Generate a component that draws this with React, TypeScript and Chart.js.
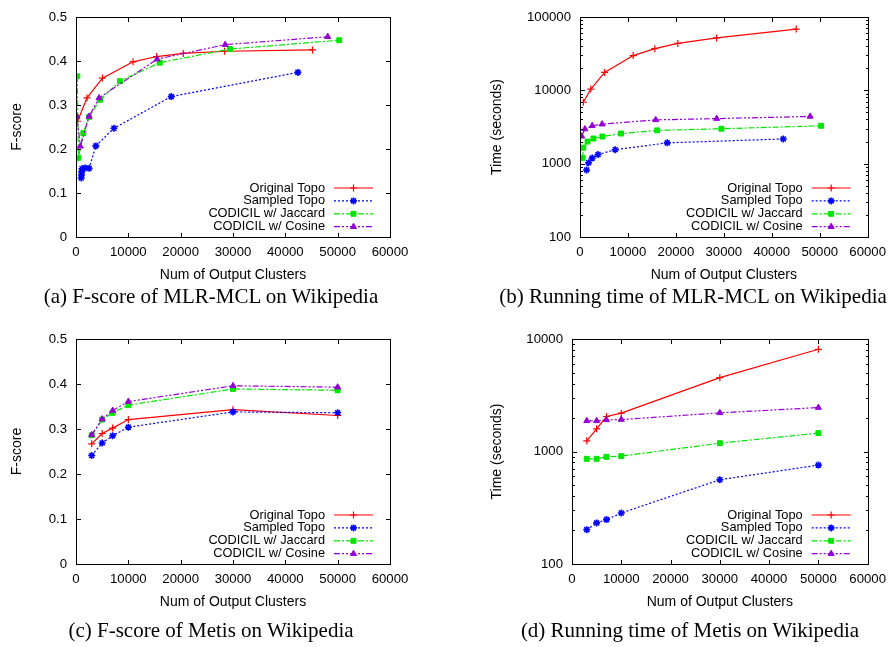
import React, { useEffect, useRef } from 'react';
import { Chart, registerables } from 'chart.js';
import { drawPoint } from 'chart.js/helpers';

Chart.register(...registerables);

type Pt = [number, number];

// ---------- labels ----------
const seriesNames = ['Original Topo', 'Sampled Topo', 'CODICIL w/ Jaccard', 'CODICIL w/ Cosine'];
const xTitle = 'Num of Output Clusters';
const fTitle = 'F-score';
const tTitle = 'Time (seconds)';
const captions = [
  '(a) F-score of MLR-MCL on Wikipedia',
  '(b) Running time of MLR-MCL on Wikipedia',
  '(c) F-score of Metis on Wikipedia',
  '(d) Running time of Metis on Wikipedia',
];

// ---------- tick values ----------
const clusterTicks = [0, 10000, 20000, 30000, 40000, 50000, 60000];
const fscoreTicks = [0, 0.1, 0.2, 0.3, 0.4, 0.5];
const timeTicksMlr = [100, 1000, 10000, 100000];
const timeTicksMetis = [100, 1000, 10000];

// ---------- (a) F-score of MLR-MCL ----------
const aOriginal: Pt[] = [[300, 0.263], [2100, 0.316], [5050, 0.361], [10900, 0.398], [15400, 0.41], [20500, 0.417], [28400, 0.422], [45200, 0.425]];
const aSampled: Pt[] = [[1000, 0.134], [1050, 0.141], [1100, 0.148], [1150, 0.155], [1700, 0.157], [2500, 0.156], [3800, 0.207], [7250, 0.247], [18200, 0.319], [42400, 0.374]];
const aJaccard: Pt[] = [[250, 0.365], [450, 0.18], [1400, 0.236], [2500, 0.273], [4600, 0.312], [8400, 0.354], [16000, 0.396], [29400, 0.427], [50300, 0.447]];
const aCosine: Pt[] = [[190, 0.274], [820, 0.206], [2500, 0.274], [4400, 0.316], [15500, 0.404], [28500, 0.437], [48100, 0.455]];

// ---------- (b) Running time of MLR-MCL ----------
const bOriginal: Pt[] = [[690, 6870], [2260, 10400], [5140, 17500], [11100, 29700], [15600, 36900], [20400, 43500], [28500, 51800], [45100, 68200]];
const bSampled: Pt[] = [[1370, 820], [1780, 1030], [2540, 1190], [3770, 1330], [7340, 1550], [18200, 1920], [42400, 2170]];
const bJaccard: Pt[] = [[550, 1200], [690, 1650], [1580, 2000], [2810, 2200], [4660, 2340], [8570, 2570], [16100, 2840], [29500, 2990], [50300, 3280]];
const bCosine: Pt[] = [[340, 2360], [1030, 2960], [2540, 3280], [4600, 3450], [15800, 3950], [28500, 4110], [48000, 4400]];

// ---------- (c)/(d) Metis ----------
const metisClusters = [3000, 5000, 7000, 10000, 30000, 50000];
const cOriginal = [0.267, 0.29, 0.302, 0.321, 0.343, 0.33];
const cSampled = [0.241, 0.269, 0.285, 0.304, 0.338, 0.336];
const cJaccard = [0.286, 0.321, 0.336, 0.353, 0.389, 0.386];
const cCosine = [0.287, 0.322, 0.341, 0.361, 0.396, 0.393];
const dOriginal = [1245, 1590, 2046, 2193, 4535, 8100];
const dSampled = [202, 232, 248, 284, 561, 757];
const dJaccard = [861, 861, 897, 910, 1186, 1456];
const dCosine = [1873, 1873, 1910, 1923, 2205, 2457];

const zipMetis = (ys: number[]): Pt[] => metisClusters.map((x, i) => [x, ys[i]] as Pt);

const STYLES = [
  { color: '#ff0000', dash: [] as number[], point: 'cross', pbw: 1.2 },
  { color: '#0000ff', dash: [2, 2], point: 'star', pbw: 1.6 },
  { color: '#00e600', dash: [6, 2, 2, 2], point: 'rect', pbw: 1 },
  { color: '#9400d3', dash: [6, 2, 2, 2, 2, 2], point: 'triangle', pbw: 1 },
];

const SANS = '"Liberation Sans", Arial, Helvetica, sans-serif';

const gpPlugin = {
  id: 'gp',
  afterDraw(chart: any, _args: any, opts: any) {
    const { ctx, chartArea: a } = chart;
    const xs = chart.scales.x;
    const ys = chart.scales.y;
    const MAJ = 4.5;
    const MIN = 2.5;
    ctx.save();
    ctx.strokeStyle = '#000';
    ctx.lineWidth = 1;
    ctx.setLineDash([]);
    const L = Math.round(a.left) + 0.5;
    const R = Math.round(a.right) + 0.5;
    const T = Math.round(a.top) + 0.5;
    const B = Math.round(a.bottom) + 0.5;
    ctx.beginPath();
    for (const v of opts.xTicks) {
      const px = Math.round(xs.getPixelForValue(v)) + 0.5;
      if (px <= L + 1 || px >= R - 1) continue;
      ctx.moveTo(px, B); ctx.lineTo(px, B - MAJ);
      ctx.moveTo(px, T); ctx.lineTo(px, T + MAJ);
    }
    for (const v of opts.yTicks) {
      const py = Math.round(ys.getPixelForValue(v)) + 0.5;
      if (py <= T + 1 || py >= B - 1) continue;
      ctx.moveTo(L, py); ctx.lineTo(L + MAJ, py);
      ctx.moveTo(R, py); ctx.lineTo(R - MAJ, py);
    }
    if (opts.log) {
      for (let i = 0; i < opts.yTicks.length - 1; i++) {
        const base = opts.yTicks[i];
        for (let k = 2; k <= 9; k++) {
          const py = Math.round(ys.getPixelForValue(base * k)) + 0.5;
          ctx.moveTo(L, py); ctx.lineTo(L + MIN, py);
          ctx.moveTo(R, py); ctx.lineTo(R - MIN, py);
        }
      }
    }
    ctx.stroke();
    ctx.strokeRect(L, T, R - L, B - T);

    // axis titles
    ctx.fillStyle = '#000';
    ctx.font = '14px ' + SANS;
    ctx.textAlign = 'center';
    ctx.textBaseline = 'middle';
    ctx.fillText(opts.xTitle, (a.left + a.right) / 2, a.bottom + 38);
    ctx.save();
    ctx.translate(opts.yTitleX, (a.top + a.bottom) / 2);
    ctx.rotate(-Math.PI / 2);
    ctx.fillText(opts.yTitle, 0, 0);
    ctx.restore();

    // legend
    ctx.font = '12.8px ' + SANS;
    ctx.textAlign = 'right';
    chart.data.datasets.forEach((ds: any, i: number) => {
      const st = STYLES[i];
      const y = a.bottom - 49 + 12.9 * i;
      ctx.fillStyle = '#000';
      ctx.fillText(ds.label, a.right - 65, y);
      ctx.strokeStyle = st.color;
      ctx.fillStyle = st.color;
      ctx.lineWidth = 1.2;
      ctx.setLineDash(st.dash);
      ctx.beginPath();
      ctx.moveTo(a.right - 56, y);
      ctx.lineTo(a.right - 17, y);
      ctx.stroke();
      ctx.setLineDash([]);
      ctx.lineWidth = st.pbw;
      drawPoint(ctx, { pointStyle: st.point as any, rotation: 0, radius: 3.5, borderWidth: st.pbw }, a.right - 36.5, y);
    });
    ctx.restore();
  },
};

type PanelCfg = {
  left: number; top: number; w: number; h: number;
  area: { l: number; t: number; r: number; b: number };
  log: boolean; yMin: number; yMax: number; yTicks: number[];
  yTitle: string; yTitleX: number;
  series: Pt[][];
};

const panels: PanelCfg[] = [
  {
    left: 0, top: 0, w: 446, h: 310,
    area: { l: 76, t: 12, r: 390, b: 237 },
    log: false, yMin: 0, yMax: 0.5, yTicks: fscoreTicks, yTitle: fTitle, yTitleX: 17,
    series: [aOriginal, aSampled, aJaccard, aCosine],
  },
  {
    left: 446, top: 0, w: 447, h: 310,
    area: { l: 580, t: 12, r: 872, b: 237 },
    log: true, yMin: 100, yMax: 100000, yTicks: timeTicksMlr, yTitle: tTitle, yTitleX: 497,
    series: [bOriginal, bSampled, bJaccard, bCosine],
  },
  {
    left: 0, top: 310, w: 446, h: 337,
    area: { l: 76, t: 339, r: 390, b: 564 },
    log: false, yMin: 0, yMax: 0.5, yTicks: fscoreTicks, yTitle: fTitle, yTitleX: 17,
    series: [zipMetis(cOriginal), zipMetis(cSampled), zipMetis(cJaccard), zipMetis(cCosine)],
  },
  {
    left: 446, top: 310, w: 447, h: 337,
    area: { l: 572, t: 339, r: 871, b: 564 },
    log: true, yMin: 100, yMax: 10000, yTicks: timeTicksMetis, yTitle: tTitle, yTitleX: 497,
    series: [zipMetis(dOriginal), zipMetis(dSampled), zipMetis(dJaccard), zipMetis(dCosine)],
  },
];

function Panel({ cfg }: { cfg: PanelCfg }) {
  const ref = useRef<HTMLCanvasElement>(null);
  useEffect(() => {
    const c = cfg;
    const padTop = c.area.t - c.top;
    const yW = c.area.l - c.left;
    const padRight = c.left + c.w - c.area.r;
    const xH = c.top + c.h - c.area.b;
    const tickFont = { family: SANS, size: 13.2 };
    const chart = new Chart(ref.current as HTMLCanvasElement, {
      type: 'line',
      data: {
        datasets: c.series.map((pts, i) => ({
          label: seriesNames[i],
          data: pts.map(([x, y]) => ({ x, y })),
          borderColor: STYLES[i].color,
          backgroundColor: STYLES[i].color,
          borderDash: STYLES[i].dash,
          borderWidth: 1.2,
          pointStyle: STYLES[i].point as any,
          pointRadius: 3.5,
          pointBorderWidth: STYLES[i].pbw,
          pointBackgroundColor: STYLES[i].color,
          pointBorderColor: STYLES[i].color,
          fill: false,
          tension: 0,
          order: 3 - i,
        })),
      },
      options: {
        animation: false,
        responsive: false,
        events: [],
        layout: { padding: { top: padTop, right: padRight, left: 0, bottom: 0 } },
        plugins: {
          legend: { display: false },
          tooltip: { enabled: false },
          gp: {
            xTicks: clusterTicks, yTicks: c.yTicks, log: c.log,
            xTitle, yTitle: c.yTitle, yTitleX: c.yTitleX - c.left,
          },
        } as any,
        scales: {
          x: {
            type: 'linear', min: 0, max: 60000,
            afterBuildTicks: (s: any) => { s.ticks = clusterTicks.map((v) => ({ value: v })); },
            afterFit: (s: any) => { s.height = xH; },
            ticks: { font: tickFont, color: '#000', padding: 7, maxRotation: 0, autoSkip: false, callback: (v: any) => String(v) },
            grid: { display: false, drawTicks: false },
            border: { display: false },
          },
          y: {
            type: c.log ? 'logarithmic' : 'linear', min: c.yMin, max: c.yMax,
            afterBuildTicks: (s: any) => { s.ticks = c.yTicks.map((v) => ({ value: v })); },
            afterFit: (s: any) => { s.width = yW; },
            ticks: { font: tickFont, color: '#000', padding: 9, autoSkip: false, callback: (v: any) => String(Math.round(Number(v) * 10) / 10) },
            grid: { display: false, drawTicks: false },
            border: { display: false },
          },
        } as any,
      },
      plugins: [gpPlugin as any],
    });
    return () => chart.destroy();
  }, [cfg]);
  return (
    <canvas
      ref={ref}
      width={cfg.w}
      height={cfg.h}
      style={{ position: 'absolute', left: cfg.left, top: cfg.top, width: cfg.w, height: cfg.h }}
    />
  );
}

const captionPos = [
  { cx: 211, top: 286 },
  { cx: 693, top: 286 },
  { cx: 211, top: 620 },
  { cx: 690, top: 620 },
];

export default function App() {
  return (
    <div style={{ position: 'absolute', left: 0, top: 0, width: 893, height: 647, background: '#fff', overflow: 'hidden' }}>
      {panels.map((p, i) => <Panel key={i} cfg={p} />)}
      {captions.map((t, i) => (
        <div
          key={'c' + i}
          style={{
            position: 'absolute', left: captionPos[i].cx - 250, top: captionPos[i].top, width: 500,
            textAlign: 'center', fontFamily: '"Liberation Serif", "Times New Roman", Times, serif',
            fontSize: 21, lineHeight: '21px', color: '#000', whiteSpace: 'nowrap',
          }}
        >
          {t}
        </div>
      ))}
    </div>
  );
}
